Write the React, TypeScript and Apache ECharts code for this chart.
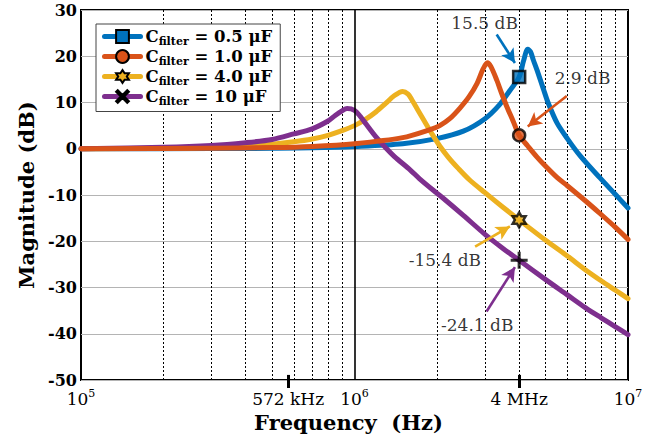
import React, { useEffect, useRef } from "react";
import * as echarts from "echarts";

// ---------- data ----------
const seriesNames = ["0.5 μF", "1.0 μF", "4.0 μF", "10 μF"];

const freqBlue = [1e5, 3e5, 5e5, 7e5, 1e6, 1.5e6, 2e6, 2.5e6, 3e6, 3.4e6, 3.7e6, 4e6, 4.15e6, 4.3e6, 4.4e6, 4.5e6, 4.65e6, 4.9e6, 5.1e6, 5.5e6, 6e6, 6.7e6, 7.9e6, 9e6, 1e7];
const magBlue = [0, 0.03, 0.1, 0.2, 0.5, 1.1, 2.2, 3.8, 6.5, 9.6, 12.6, 15.5, 19.0, 21.5, 21.0, 19.3, 17.0, 13.0, 10.0, 5.6, 2.2, -1.6, -6.3, -9.9, -12.8];

const freqOrange = [1e5, 3e5, 5e5, 7e5, 1e6, 1.5e6, 1.9e6, 2.05e6, 2.23e6, 2.43e6, 2.62e6, 2.81e6, 2.95e6, 3.06e6, 3.15e6, 3.31e6, 3.45e6, 3.6e6, 3.8e6, 4e6, 4.3e6, 4.65e6, 5e6, 5.5e6, 6e6, 7e6, 7.9e6, 9e6, 1e7];
const magOrange = [0, 0.1, 0.25, 0.5, 1.1, 2.4, 4.2, 5.0, 6.5, 8.8, 11.2, 14.2, 17.2, 18.6, 17.8, 14.9, 12.0, 9.2, 6.0, 2.9, 0.6, -1.8, -3.8, -6.2, -8.0, -11.3, -14.0, -17.0, -19.6];

const freqYellow = [1e5, 2e5, 3e5, 4e5, 5e5, 6e5, 7e5, 8e5, 9e5, 1e6, 1.1e6, 1.2e6, 1.3e6, 1.4e6, 1.5e6, 1.57e6, 1.62e6, 1.7e6, 1.8e6, 1.93e6, 2.05e6, 2.2e6, 2.4e6, 2.63e6, 3e6, 3.5e6, 4e6, 5e6, 6e6, 7e6, 8e6, 9e6, 1e7];
const magYellow = [0, 0.1, 0.3, 0.6, 1.0, 1.5, 2.1, 2.9, 3.9, 5.0, 6.4, 8.0, 9.8, 11.5, 12.4, 11.8, 10.6, 8.5, 6.0, 3.0, 0.6, -1.8, -4.3, -6.7, -9.5, -12.7, -15.4, -19.8, -23.2, -26.2, -28.6, -30.6, -32.4];

const freqPurple = [1e5, 2e5, 3e5, 4e5, 5e5, 6e5, 7e5, 8e5, 8.5e5, 9e5, 9.4e5, 1e6, 1.05e6, 1.1e6, 1.2e6, 1.3e6, 1.4e6, 1.6e6, 1.73e6, 2e6, 2.1e6, 2.5e6, 3e6, 3.5e6, 4e6, 5e6, 6e6, 7e6, 8e6, 9e6, 1e7];
const magPurple = [0, 0.3, 0.7, 1.3, 2.0, 3.2, 4.3, 6.0, 7.2, 8.2, 8.7, 8.3, 7.0, 5.4, 2.5, 0.2, -1.7, -4.6, -6.5, -9.6, -10.6, -14.4, -18.5, -21.6, -24.1, -28.3, -31.6, -34.4, -36.6, -38.5, -40.2];

const markerFreq = 4e6;
const markerMag = [15.5, 2.9, -15.4, -24.1];

const annotText = ["15.5 dB", "2.9 dB", "-15.4 dB", "-24.1 dB"];
const annotPos = [[2.99e6, 27.1], [6.82e6, 15.2], [2.14e6, -24.0], [2.81e6, -38.1]];
const arrowFrom = [[3.31e6, 24.7], [5.97e6, 11.4], [2.76e6, -21.15], [3.04e6, -35.2]];
const arrowTo = [[3.86e6, 18.55], [4.3e6, 4.83], [3.7e6, -16.8], [3.86e6, -25.6]];

const xTickValues = [1e5, 572e3, 1e6, 4e6, 1e7];
const xTickLabels = ["{b|10}{p|5}", "{r|572 kHz}", "{b|10}{p|6}", "{r|4 MHz}", "{b|10}{p|7}"];
const xMarkedTicks = [572e3, 4e6];
const xMinorGrid = [2e5, 3e5, 4e5, 5e5, 6e5, 7e5, 8e5, 9e5, 2e6, 3e6, 4e6, 5e6, 6e6, 7e6, 8e6, 9e6];
const yMin = -50;
const yMax = 30;
const yStep = 10;

// ---------- styling ----------
const COLORS = ["#0072BD", "#D95319", "#EDB120", "#7E2F8E"];
const FONT = "DejaVu Serif";

const hexPath = (() => {
  const pts: string[] = [];
  for (let i = 0; i < 12; i++) {
    const r = i % 2 === 0 ? 50 : 29;
    const a = -Math.PI / 2 + (i * Math.PI) / 6;
    pts.push(`${(50 + r * Math.cos(a)).toFixed(2)},${(50 + r * Math.sin(a)).toFixed(2)}`);
  }
  return "path://M" + pts.join("L") + "Z";
})();
const plusPath = "path://M41,0H59V41H100V59H59V100H41V59H0V41H41Z";
const crossPath = "path://M13,0L50,37L87,0L100,13L63,50L100,87L87,100L50,63L13,100L0,87L37,50L0,13Z";

const legendSymbols = ["rect", "circle", hexPath, crossPath];
const markerSymbols = ["rect", "circle", hexPath, plusPath];
const markerSizes = [12, 12, 15, 17];
const curveZ = [2, 5, 3, 4];

export default function App() {
  const ref = useRef<HTMLDivElement>(null);

  useEffect(() => {
    if (!ref.current) return;
    const chart = echarts.init(ref.current, undefined, { renderer: "svg" });

    const curves = [
      { freq: freqBlue, mag: magBlue },
      { freq: freqOrange, mag: magOrange },
      { freq: freqYellow, mag: magYellow },
      { freq: freqPurple, mag: magPurple },
    ];

    const lineSeries: any[] = curves.map((c, i) => {
      const markData: any[] = [
        [
          { coord: arrowFrom[i], symbol: "none" },
          { coord: arrowTo[i], symbol: "arrow", symbolSize: [11, 14] },
        ],
      ];
      if (i === 0) {
        markData.push([
          { coord: [1e6, yMin], symbol: "none", lineStyle: { color: "#000", width: 1.6, type: "solid" } },
          { coord: [1e6, yMax], symbol: "none", lineStyle: { color: "#000", width: 1.6, type: "solid" } },
        ]);
        xMarkedTicks.forEach((f) => {
          markData.push([
            { coord: [f, yMin], symbol: "none", lineStyle: { color: "#000", width: 3, type: "solid" } },
            { coord: [f, yMin + 1.1], symbol: "none", lineStyle: { color: "#000", width: 3, type: "solid" } },
          ]);
        });
      }
      return {
        type: "line",
        name: seriesNames[i],
        xAxisIndex: 0,
        yAxisIndex: 0,
        data: c.freq.map((f, j) => [f, c.mag[j]]),
        showSymbol: false,
        symbol: legendSymbols[i],
        symbolKeepAspect: true,
        smooth: 0.3,
        lineStyle: { color: COLORS[i], width: 5, cap: "round", join: "round" },
        itemStyle: {
          color: i === 3 ? "#000" : COLORS[i],
          borderColor: "#000",
          borderWidth: i === 3 ? 0 : 2,
        },
        z: curveZ[i],
        silent: true,
        markLine: {
          silent: true,
          symbol: ["none", "arrow"],
          label: { show: false },
          lineStyle: { color: COLORS[i], width: 2.6, type: "solid" },
          emphasis: { disabled: true },
          data: markData,
        },
      };
    });

    const markerSeries = {
      type: "scatter",
      name: "markers",
      xAxisIndex: 0,
      yAxisIndex: 0,
      z: 10,
      silent: true,
      symbolKeepAspect: true,
      data: markerMag.map((m, i) => ({
        value: [markerFreq, m],
        symbol: markerSymbols[i],
        symbolSize: markerSizes[i],
        itemStyle: {
          color: i === 3 ? "#000" : COLORS[i],
          borderColor: "#000",
          borderWidth: i === 3 ? 0 : 2.5,
        },
      })),
    };

    const annotSeries = {
      type: "scatter",
      name: "annotations",
      xAxisIndex: 0,
      yAxisIndex: 0,
      z: 11,
      silent: true,
      symbolSize: 1,
      itemStyle: { color: "rgba(0,0,0,0)" },
      data: annotPos.map((p) => p),
      label: {
        show: true,
        position: "inside",
        formatter: (p: any) => annotText[p.dataIndex],
        fontFamily: FONT,
        fontSize: 17,
        color: "#000",
      },
    };

    const logTick = (v: number) => Math.log10(v);

    const option: any = {
      animation: false,
      backgroundColor: "#fff",
      grid: {
        left: 81,
        right: 35,
        top: 10,
        bottom: 59,
        show: true,
        borderColor: "#000",
        borderWidth: 2,
        backgroundColor: "transparent",
        containLabel: false,
        outerBoundsMode: "none",
      },
      legend: {
        data: seriesNames,
        orient: "vertical",
        left: 96,
        top: 24,
        padding: [4, 8, 5, 6],
        itemGap: 1.5,
        itemWidth: 36,
        itemHeight: 16,
        backgroundColor: "#fff",
        borderColor: "#444",
        borderWidth: 1,
        borderRadius: 0,
        lineStyle: { width: 5 },
        itemStyle: { borderColor: "#000", borderWidth: 2 },
        selectedMode: false,
        formatter: (name: string) => `{c|C}{s|filter}{c| = ${name}}`,
        textStyle: {
          color: "#000",
          rich: {
            c: { fontFamily: FONT, fontWeight: "bold", fontSize: 16.5, lineHeight: 20, color: "#000" },
            s: { fontFamily: FONT, fontWeight: "bold", fontSize: 11, lineHeight: 12, verticalAlign: "bottom", color: "#000" },
          },
        },
      },
      xAxis: [
        {
          type: "log",
          logBase: 10,
          min: 1e5,
          max: 1e7,
          position: "top",
          axisLine: { show: false },
          axisTick: { show: false },
          axisLabel: { show: false },
          splitLine: { show: false },
          minorTick: { show: false },
        },
        {
          type: "value",
          min: 5,
          max: 7,
          position: "bottom",
          name: "Frequency  (Hz)",
          nameLocation: "middle",
          nameGap: 27,
          nameTextStyle: { fontFamily: FONT, fontWeight: "bold", fontSize: 21, color: "#000", padding: [0, 12, 0, 0] },
          axisLine: { show: false },
          axisTick: {
            show: true,
            inside: false,
            length: 8,
            customValues: xMarkedTicks.map(logTick),
            lineStyle: { color: "#000", width: 3 },
          },
          axisLabel: {
            show: true,
            margin: 8,
            customValues: xTickValues.map(logTick),
            formatter: (v: number) => {
              const idx = xTickValues.findIndex((t) => Math.abs(logTick(t) - v) < 1e-6);
              return idx >= 0 ? xTickLabels[idx] : "";
            },
            rich: {
              b: { fontFamily: FONT, fontSize: 17, lineHeight: 22, color: "#000" },
              p: { fontFamily: FONT, fontSize: 11, lineHeight: 14, verticalAlign: "top", color: "#000" },
              r: { fontFamily: FONT, fontSize: 17, lineHeight: 22, color: "#000" },
            },
          },
          splitLine: { show: false },
        },
        {
          type: "value",
          min: 5,
          max: 7,
          position: "top",
          axisLine: { show: false },
          axisTick: { show: false, customValues: xMinorGrid.map(logTick) },
          axisLabel: { show: false },
          splitLine: { show: true, lineStyle: { color: "#000", width: 1, type: [2, 2] } },
        },
      ],
      yAxis: [
        {
          type: "value",
          min: yMin,
          max: yMax,
          interval: yStep,
          name: "Magnitude (dB)",
          nameLocation: "middle",
          nameGap: 40,
          nameTextStyle: { fontFamily: FONT, fontWeight: "bold", fontSize: 21, color: "#000" },
          axisLine: { show: false },
          axisTick: { show: false },
          axisLabel: { fontFamily: FONT, fontWeight: "bold", fontSize: 16, color: "#000", margin: 4 },
          splitLine: { show: true, lineStyle: { color: "#b4b4b4", width: 1, type: "solid" } },
        },
      ],
      series: [...lineSeries, markerSeries, annotSeries],
    };

    chart.setOption(option);
    return () => {
      chart.dispose();
    };
  }, []);

  return (
    <div
      ref={ref}
      style={{ position: "fixed", left: 0, top: 0, width: 663, height: 439, background: "#fff" }}
    />
  );
}
